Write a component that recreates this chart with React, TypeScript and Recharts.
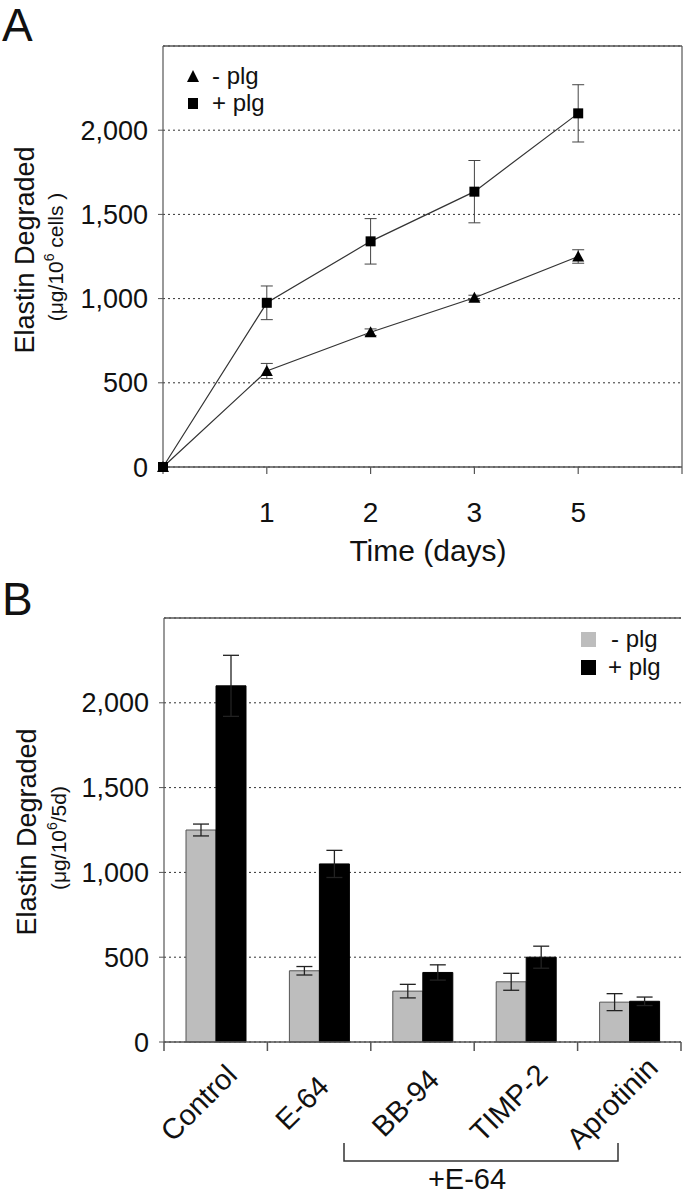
import {
  LineChart,
  Line,
  BarChart,
  Bar,
  XAxis,
  YAxis,
  CartesianGrid,
  ErrorBar,
  ReferenceLine,
  Legend,
} from "recharts";

const FONT = '"Liberation Sans", Arial, Helvetica, sans-serif';
const INK = "#111";
const AXIS = "#555";

// Panel A: elastin degraded over time
const days = [0, 1, 2, 3, 5];
const minusPlg = [0, 570, 800, 1005, 1250];
const minusPlgErr = [0, 45, 20, 15, 40];
const plusPlg = [0, 975, 1340, 1635, 2100];
const plusPlgErr = [0, 100, 135, 185, 170];

// Panel B: inhibitors, 5 days
const treatments = ["Control", "E-64", "BB-94", "TIMP-2", "Aprotinin"];
const barMinus = [1250, 420, 300, 355, 235];
const barMinusErr = [35, 25, 40, 50, 50];
const barPlus = [2100, 1050, 410, 500, 240];
const barPlusErr = [180, 80, 45, 65, 25];

const yTicks = [0, 500, 1000, 1500, 2000];
const yMax = 2500;

const timeData = days.map((d, i) => ({
  pos: i,
  day: d,
  minus: minusPlg[i],
  minusErr: minusPlgErr[i],
  plus: plusPlg[i],
  plusErr: plusPlgErr[i],
}));

const barData = treatments.map((t, i) => ({
  name: t,
  minus: barMinus[i],
  minusErr: barMinusErr[i],
  plus: barPlus[i],
  plusErr: barPlusErr[i],
}));

const fmt = (v: number) => v.toLocaleString("en-US");

const Triangle = (props: any) => {
  const { cx, cy } = props;
  if (cx == null || cy == null) return null;
  return (
    <polygon
      points={`${cx},${cy - 6} ${cx + 6},${cy + 5} ${cx - 6},${cy + 5}`}
      fill="#000"
    />
  );
};

const Square = (props: any) => {
  const { cx, cy } = props;
  if (cx == null || cy == null) return null;
  return <rect x={cx - 5} y={cy - 5} width={10} height={10} fill="#000" />;
};

const LegendA = () => (
  <div style={{ fontFamily: FONT, fontSize: 24, color: INK, lineHeight: "27px" }}>
    <div style={{ display: "flex", alignItems: "center" }}>
      <svg width={14} height={14}>
        <polygon points="7,1 13,13 1,13" fill="#000" />
      </svg>
      <span style={{ marginLeft: 12 }}>- plg</span>
    </div>
    <div style={{ display: "flex", alignItems: "center" }}>
      <svg width={14} height={14}>
        <rect x={2} y={2} width={10} height={11} fill="#000" />
      </svg>
      <span style={{ marginLeft: 12 }}>+ plg</span>
    </div>
  </div>
);

const LegendB = () => (
  <div style={{ fontFamily: FONT, fontSize: 24, color: INK, lineHeight: "28px" }}>
    <div style={{ display: "flex", alignItems: "center" }}>
      <span style={{ width: 15, height: 15, background: "#bdbdbd", display: "inline-block" }} />
      <span style={{ marginLeft: 15 }}>- plg</span>
    </div>
    <div style={{ display: "flex", alignItems: "center" }}>
      <span style={{ width: 15, height: 15, background: "#000", display: "inline-block" }} />
      <span style={{ marginLeft: 12 }}>+ plg</span>
    </div>
  </div>
);

// category label, rotated, with tick marks on the band edges
const TreatmentTick = (props: any) => {
  const { x, y, payload, index, width, visibleTicksCount } = props;
  const half = width && visibleTicksCount ? width / visibleTicksCount / 2 : 51.7;
  const last = index === treatments.length - 1;
  return (
    <g>
      <line x1={x - half} y1={y} x2={x - half} y2={y + 9} stroke={AXIS} strokeWidth={1.5} />
      {last && <line x1={x + half} y1={y} x2={x + half} y2={y + 9} stroke={AXIS} strokeWidth={1.5} />}
      <text
        x={0}
        y={0}
        transform={`translate(${x - 10},${y + 68}) rotate(-45)`}
        textAnchor="middle"
        fontSize={29}
        fontFamily={FONT}
        fill={INK}
      >
        {payload.value}
      </text>
    </g>
  );
};

const TimeChart = () => (
  <LineChart
    width={688}
    height={570}
    data={timeData}
    margin={{ top: 46, right: 6, left: 0, bottom: 0 }}
  >
    <CartesianGrid horizontal vertical={false} stroke="#333" strokeDasharray="2 3" />
    <XAxis
      dataKey="pos"
      type="number"
      domain={[0, 5]}
      ticks={[0, 1, 2, 3, 4, 5]}
      tickFormatter={(i: number) => (i >= 1 && i < days.length ? String(days[i]) : "")}
      height={103}
      tickSize={7}
      tickMargin={28}
      tick={{ fontSize: 28, fill: INK, fontFamily: FONT }}
      axisLine={{ stroke: AXIS, strokeWidth: 1.5 }}
      tickLine={{ stroke: AXIS, strokeWidth: 1.2 }}
    />
    <YAxis
      domain={[0, yMax]}
      ticks={yTicks}
      tickFormatter={fmt}
      width={163}
      tickSize={5}
      tickMargin={10}
      tick={{ fontSize: 27, fill: INK, fontFamily: FONT }}
      axisLine={{ stroke: AXIS, strokeWidth: 1.2 }}
      tickLine={{ stroke: AXIS }}
    />
    <ReferenceLine y={yMax} stroke={AXIS} strokeWidth={1.5} />
    <ReferenceLine x={5} stroke={AXIS} strokeWidth={1.2} />
    <Line
      dataKey="minus"
      stroke="#333"
      strokeWidth={1.2}
      dot={<Triangle />}
      isAnimationActive={false}
    >
      <ErrorBar dataKey="minusErr" direction="y" width={6} stroke="#444" strokeWidth={1} />
    </Line>
    <Line
      dataKey="plus"
      stroke="#333"
      strokeWidth={1.2}
      dot={<Square />}
      isAnimationActive={false}
    >
      <ErrorBar dataKey="plusErr" direction="y" width={6} stroke="#444" strokeWidth={1} />
    </Line>
    <Legend
      layout="horizontal"
      verticalAlign="middle"
      align="center"
      content={() => <LegendA />}
      wrapperStyle={{ left: 186, top: 62, width: 120, height: 60 }}
    />
    <text x={2} y={41} fontSize={46} fontFamily={FONT} fill={INK}>
      A
    </text>
    <text transform="translate(34,250) rotate(-90)" textAnchor="middle" fontSize={27} fontFamily={FONT} fill={INK}>
      Elastin Degraded
    </text>
    <text transform="translate(63,257) rotate(-90)" textAnchor="middle" fontSize={21} fontFamily={FONT} fill={INK}>
      (μg/10<tspan dy={-9} fontSize={14}>6</tspan>
      <tspan dy={9}> cells )</tspan>
    </text>
    <text x={428} y={561} textAnchor="middle" fontSize={30} fontFamily={FONT} fill={INK}>
      Time (days)
    </text>
  </LineChart>
);

const InhibitorChart = () => (
  <BarChart
    width={688}
    height={629}
    data={barData}
    margin={{ top: 48, right: 7, left: 0, bottom: 0 }}
    barGap={0}
  >
    <CartesianGrid horizontal vertical={false} stroke="#333" strokeDasharray="2 3" />
    <XAxis
      dataKey="name"
      height={157}
      interval={0}
      tickSize={0}
      tickMargin={0}
      tickLine={false}
      tick={<TreatmentTick />}
      axisLine={{ stroke: AXIS, strokeWidth: 1.5 }}
    />
    <YAxis
      domain={[0, yMax]}
      ticks={yTicks}
      tickFormatter={fmt}
      width={164}
      tickSize={5}
      tickMargin={10}
      tick={{ fontSize: 27, fill: INK, fontFamily: FONT }}
      axisLine={{ stroke: AXIS, strokeWidth: 1.2 }}
      tickLine={{ stroke: AXIS }}
    />
    <YAxis
      yAxisId="frame"
      orientation="right"
      width={0}
      tick={false}
      tickLine={false}
      axisLine={{ stroke: AXIS, strokeWidth: 1.2 }}
    />
    <ReferenceLine y={yMax} stroke={AXIS} strokeWidth={1.5} />
    <Bar dataKey="minus" barSize={30} fill="#bdbdbd" stroke="#555" strokeWidth={1} isAnimationActive={false}>
      <ErrorBar dataKey="minusErr" direction="y" width={8} stroke="#222" strokeWidth={1.3} />
    </Bar>
    <Bar dataKey="plus" barSize={30} fill="#000" stroke="#000" strokeWidth={1} isAnimationActive={false}>
      <ErrorBar dataKey="plusErr" direction="y" width={8} stroke="#222" strokeWidth={1.3} />
    </Bar>
    <Legend
      layout="horizontal"
      verticalAlign="middle"
      align="center"
      content={() => <LegendB />}
      wrapperStyle={{ left: 581, top: 55, width: 100, height: 60 }}
    />
    <text x={2} y={45} fontSize={46} fontFamily={FONT} fill={INK}>
      B
    </text>
    <text transform="translate(36,262) rotate(-90)" textAnchor="middle" fontSize={27} fontFamily={FONT} fill={INK}>
      Elastin Degraded
    </text>
    <text transform="translate(66,268) rotate(-90)" textAnchor="middle" fontSize={21} fontFamily={FONT} fill={INK}>
      (μg/10<tspan dy={-9} fontSize={14}>6</tspan>
      <tspan dy={9}>/5d)</tspan>
    </text>
    <path d="M344,573 V591 H618 V573" fill="none" stroke="#333" strokeWidth={1.5} />
    <text x={467} y={619} textAnchor="middle" fontSize={29} fontFamily={FONT} fill={INK}>
      +E-64
    </text>
  </BarChart>
);

export default function App() {
  return (
    <div style={{ position: "absolute", left: 0, top: 0, width: 688, height: 1199, background: "#fff" }}>
      <TimeChart />
      <InhibitorChart />
    </div>
  );
}
